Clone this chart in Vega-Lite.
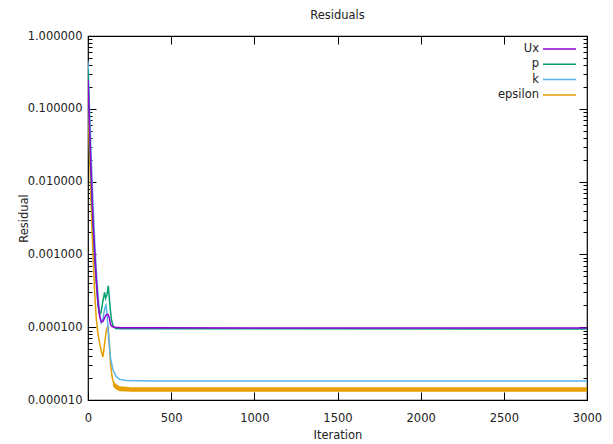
{
  "$schema": "https://vega.github.io/schema/vega-lite/v6.json",
  "width": 499,
  "height": 364,
  "autosize": "none",
  "padding": {"left": 88, "top": 36, "right": 26, "bottom": 44},
  "background": "white",
  "config": {
    "view": {"stroke": "black", "strokeWidth": 1.2},
    "font": "DejaVu Sans",
    "axis": {"grid": false, "domain": false, "tickColor": "black", "tickWidth": 1, "labelFont": "DejaVu Sans", "labelFontSize": 11.5, "labelColor": "#222", "titleFont": "DejaVu Sans", "titleFontSize": 11.5, "titleFontWeight": "normal", "titleColor": "#222"}
  },
  "title": {"text": "Residuals", "fontSize": 11.5, "fontWeight": "normal", "font": "DejaVu Sans", "color": "#222", "offset": 9, "anchor": "middle"},
  "datasets": {
    "res": [
      {"it": 0, "series": "epsilon", "r": 0.13},
      {"it": 10, "series": "epsilon", "r": 0.02},
      {"it": 20, "series": "epsilon", "r": 0.004},
      {"it": 30, "series": "epsilon", "r": 0.001},
      {"it": 40, "series": "epsilon", "r": 0.0003},
      {"it": 50, "series": "epsilon", "r": 0.00013},
      {"it": 60, "series": "epsilon", "r": 0.00008},
      {"it": 72, "series": "epsilon", "r": 0.000057},
      {"it": 82, "series": "epsilon", "r": 0.000045},
      {"it": 90, "series": "epsilon", "r": 0.000039},
      {"it": 100, "series": "epsilon", "r": 0.00006},
      {"it": 110, "series": "epsilon", "r": 0.00009},
      {"it": 120, "series": "epsilon", "r": 0.000105},
      {"it": 128, "series": "epsilon", "r": 0.00006},
      {"it": 136, "series": "epsilon", "r": 0.00003},
      {"it": 146, "series": "epsilon", "r": 0.00002},
      {"it": 156, "series": "epsilon", "r": 0.0000166},
      {"it": 175, "series": "epsilon", "r": 0.000015},
      {"it": 192, "series": "epsilon", "r": 0.0000142},
      {"it": 300, "series": "epsilon", "r": 0.000014},
      {"it": 3000, "series": "epsilon", "r": 0.000014},
      {"it": 0, "series": "k", "r": 0.45},
      {"it": 10, "series": "k", "r": 0.09},
      {"it": 20, "series": "k", "r": 0.02},
      {"it": 30, "series": "k", "r": 0.005},
      {"it": 40, "series": "k", "r": 0.0016},
      {"it": 50, "series": "k", "r": 0.0006},
      {"it": 60, "series": "k", "r": 0.00028},
      {"it": 70, "series": "k", "r": 0.00015},
      {"it": 80, "series": "k", "r": 0.000115},
      {"it": 90, "series": "k", "r": 0.00013},
      {"it": 100, "series": "k", "r": 0.00018},
      {"it": 108, "series": "k", "r": 0.0002},
      {"it": 115, "series": "k", "r": 0.00015},
      {"it": 125, "series": "k", "r": 0.00007},
      {"it": 135, "series": "k", "r": 0.000038},
      {"it": 150, "series": "k", "r": 0.000026},
      {"it": 170, "series": "k", "r": 0.000021},
      {"it": 190, "series": "k", "r": 0.0000192},
      {"it": 230, "series": "k", "r": 0.0000185},
      {"it": 400, "series": "k", "r": 0.0000183},
      {"it": 3000, "series": "k", "r": 0.0000182},
      {"it": 0, "series": "p", "r": 0.35},
      {"it": 10, "series": "p", "r": 0.04},
      {"it": 20, "series": "p", "r": 0.009},
      {"it": 30, "series": "p", "r": 0.0025},
      {"it": 40, "series": "p", "r": 0.0009},
      {"it": 50, "series": "p", "r": 0.0004},
      {"it": 60, "series": "p", "r": 0.0002},
      {"it": 70, "series": "p", "r": 0.00015},
      {"it": 78, "series": "p", "r": 0.000158},
      {"it": 88, "series": "p", "r": 0.00022},
      {"it": 100, "series": "p", "r": 0.0003},
      {"it": 106, "series": "p", "r": 0.00025},
      {"it": 114, "series": "p", "r": 0.00028},
      {"it": 122, "series": "p", "r": 0.00037},
      {"it": 130, "series": "p", "r": 0.00022},
      {"it": 140, "series": "p", "r": 0.00013},
      {"it": 150, "series": "p", "r": 0.000105},
      {"it": 165, "series": "p", "r": 0.000096},
      {"it": 200, "series": "p", "r": 0.000095},
      {"it": 3000, "series": "p", "r": 0.0000945},
      {"it": 0, "series": "Ux", "r": 0.25},
      {"it": 10, "series": "Ux", "r": 0.05},
      {"it": 20, "series": "Ux", "r": 0.012},
      {"it": 30, "series": "Ux", "r": 0.003},
      {"it": 40, "series": "Ux", "r": 0.0011},
      {"it": 50, "series": "Ux", "r": 0.00045},
      {"it": 60, "series": "Ux", "r": 0.00022},
      {"it": 70, "series": "Ux", "r": 0.00014},
      {"it": 80, "series": "Ux", "r": 0.000118},
      {"it": 90, "series": "Ux", "r": 0.00012},
      {"it": 100, "series": "Ux", "r": 0.000135},
      {"it": 110, "series": "Ux", "r": 0.000148},
      {"it": 120, "series": "Ux", "r": 0.00015},
      {"it": 128, "series": "Ux", "r": 0.000135},
      {"it": 135, "series": "Ux", "r": 0.00011},
      {"it": 145, "series": "Ux", "r": 0.000102},
      {"it": 160, "series": "Ux", "r": 0.0001},
      {"it": 200, "series": "Ux", "r": 0.0000985},
      {"it": 400, "series": "Ux", "r": 0.000098},
      {"it": 1000, "series": "Ux", "r": 0.0000978},
      {"it": 2000, "series": "Ux", "r": 0.0000976},
      {"it": 3000, "series": "Ux", "r": 0.0000975}
    ],
    "band": [
      {"it": 150, "lo": 0.0000155, "hi": 0.0000185},
      {"it": 165, "lo": 0.0000142, "hi": 0.0000168},
      {"it": 190, "lo": 0.0000132, "hi": 0.0000155},
      {"it": 260, "lo": 0.000013, "hi": 0.000015},
      {"it": 3000, "lo": 0.000013, "hi": 0.000015}
    ]
  },
  "layer": [
    {
      "data": {"name": "band"},
      "mark": {"type": "area", "color": "#e69f00", "opacity": 1},
      "encoding": {
        "x": {"field": "it", "type": "quantitative", "scale": {"domain": [0, 3000], "nice": false}, "axis": null},
        "y": {"field": "lo", "type": "quantitative", "scale": {"type": "log", "domain": [0.00001, 1], "nice": false}, "axis": null},
        "y2": {"field": "hi"}
      }
    },
    {
      "data": {"name": "res"},
      "mark": {"type": "line", "strokeWidth": 1.5, "clip": true},
      "encoding": {
        "x": {
          "field": "it", "type": "quantitative",
          "scale": {"domain": [0, 3000], "nice": false},
          "axis": {"orient": "bottom", "values": [0, 500, 1000, 1500, 2000, 2500, 3000], "format": "d", "tickSize": -8, "labelPadding": 20, "labelFlush": false, "title": "Iteration", "titlePadding": 6}
        },
        "y": {
          "field": "r", "type": "quantitative",
          "scale": {"type": "log", "domain": [0.00001, 1], "nice": false},
          "axis": {
            "orient": "left",
            "values": [0.00001, 0.00002, 0.00003, 0.00004, 0.00005, 0.00006, 0.00007, 0.00008, 0.00009, 0.0001, 0.0002, 0.0003, 0.0004, 0.0005, 0.0006, 0.0007, 0.0008, 0.0009, 0.001, 0.002, 0.003, 0.004, 0.005, 0.006, 0.007, 0.008, 0.009, 0.01, 0.02, 0.03, 0.04, 0.05, 0.06, 0.07, 0.08, 0.09, 0.1, 0.2, 0.3, 0.4, 0.5, 0.6, 0.7, 0.8, 0.9, 1],
            "labelExpr": "abs(log(datum.value)/LN10 - round(log(datum.value)/LN10)) < 0.001 ? format(datum.value, '.6f') : ''",
            "tickSize": {"condition": {"test": "abs(log(datum.value)/LN10 - round(log(datum.value)/LN10)) < 0.001", "value": -8}, "value": -4},
            "labelPadding": 14,
            "labelOverlap": false,
            "labelFlush": false,
            "title": "Residual",
            "titlePadding": -2
          }
        },
        "color": {
          "field": "series", "type": "nominal",
          "scale": {"domain": ["Ux", "p", "k", "epsilon"], "range": ["#9400d3", "#009e73", "#56b4e9", "#e69f00"]},
          "legend": {"orient": "none", "legendX": 464.5, "legendY": 6, "title": null, "symbolType": "M-2.75,0L2.75,0", "symbolSize": 144, "symbolStrokeWidth": 1.5, "symbolFillColor": "transparent", "labelAlign": "right", "labelOffset": -27.5, "labelFont": "DejaVu Sans", "labelFontSize": 11.5, "labelColor": "#222", "rowPadding": 2.3, "padding": 0}
        }
      }
    },
    {
      "data": {"name": "res"},
      "mark": {"type": "line", "opacity": 0},
      "encoding": {
        "x": {
          "field": "it", "type": "quantitative",
          "scale": {"domain": [0, 3000], "nice": false},
          "axis": {"orient": "top", "values": [0, 500, 1000, 1500, 2000, 2500, 3000], "tickSize": -8, "labels": false, "title": null}
        },
        "y": {
          "field": "r", "type": "quantitative",
          "scale": {"type": "log", "domain": [0.00001, 1], "nice": false},
          "axis": {
            "orient": "right",
            "values": [0.00001, 0.00002, 0.00003, 0.00004, 0.00005, 0.00006, 0.00007, 0.00008, 0.00009, 0.0001, 0.0002, 0.0003, 0.0004, 0.0005, 0.0006, 0.0007, 0.0008, 0.0009, 0.001, 0.002, 0.003, 0.004, 0.005, 0.006, 0.007, 0.008, 0.009, 0.01, 0.02, 0.03, 0.04, 0.05, 0.06, 0.07, 0.08, 0.09, 0.1, 0.2, 0.3, 0.4, 0.5, 0.6, 0.7, 0.8, 0.9, 1],
            "tickSize": {"condition": {"test": "abs(log(datum.value)/LN10 - round(log(datum.value)/LN10)) < 0.001", "value": -8}, "value": -4},
            "labels": false,
            "title": null
          }
        }
      }
    }
  ],
  "resolve": {"axis": {"x": "independent", "y": "independent"}}
}
